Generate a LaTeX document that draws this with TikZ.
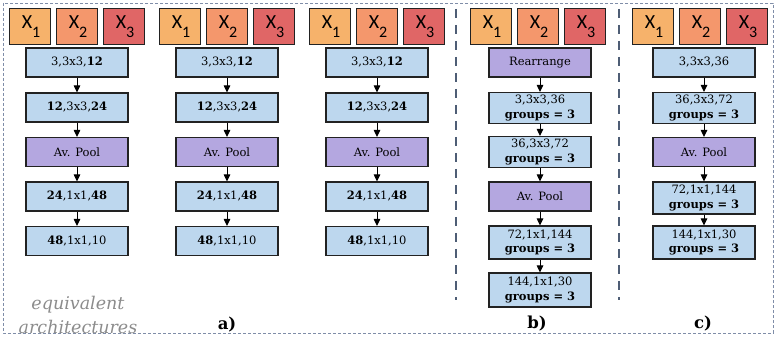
\documentclass[tikz,border=0pt]{standalone}
\usepackage{fontspec}
\setmainfont{DejaVu Serif}
\newfontfamily\xfont{Carlito}
\usetikzlibrary{arrows.meta}
\definecolor{cXa}{HTML}{F6B26B}
\definecolor{cXb}{HTML}{F4976C}
\definecolor{cXc}{HTML}{E06666}
\definecolor{cBlue}{HTML}{BDD7EE}
\definecolor{cPurple}{HTML}{B4A7E0}
\definecolor{cSep}{HTML}{4E5D75}
\definecolor{cBorder}{HTML}{7F8DA8}
\definecolor{cEdge}{HTML}{222222}
\newcommand{\xlab}[1]{\hspace*{2pt}X\raisebox{-0.45em}{\fontsize{16}{16}\selectfont #1}}
\begin{document}
\begin{tikzpicture}[x=1pt,y=-1pt,
  xbox/.style={draw=cEdge, line width=1pt, minimum width=41pt, minimum height=36pt, inner sep=0pt, font=\xfont\fontsize{20}{20}\selectfont},
  layer/.style={draw=cEdge, line width=1.1pt, fill=cBlue, minimum width=102pt, minimum height=29pt, inner sep=0pt, align=center, font=\fontsize{11.5}{13}\selectfont},
  pool/.style={layer, fill=cPurple},
  glayer/.style={layer, minimum height=31pt, font=\fontsize{11.5}{14.5}\selectfont},
  arr/.style={-{Triangle[length=7pt,width=6.5pt]}, line width=1pt, black},
  sepline/.style={cSep, line width=2.6pt, dash pattern=on 9pt off 7pt},
  border/.style={cBorder, line width=0.8pt, dash pattern=on 3pt off 2pt},
  lab/.style={font=\bfseries\fontsize{16.5}{16.5}\selectfont}]
\useasboundingbox (0,0) rectangle (776,347);
\draw[border] (3,3) rectangle (773,333);
% column group a
\foreach \i/\cx in {1/77,2/227,3/377}{
  \node[xbox, fill=cXa] (xa\i-1) at (\cx-47,27) {\xlab{1}};
  \node[xbox, fill=cXb] (xa\i-2) at (\cx,27) {\xlab{2}};
  \node[xbox, fill=cXc] (xa\i-3) at (\cx+47,27) {\xlab{3}};
  \node[layer] (a\i-1) at (\cx,62.5) {3,3x3,\textbf{12}};
  \node[layer] (a\i-2) at (\cx,107.5) {\textbf{12},3x3,\textbf{24}};
  \node[pool]  (a\i-3) at (\cx,152) {Av. Pool};
  \node[layer] (a\i-4) at (\cx,196.5) {\textbf{24},1x1,\textbf{48}};
  \node[layer] (a\i-5) at (\cx,241) {\textbf{48},1x1,10};
  \draw[arr] (a\i-1) -- (a\i-2);
  \draw[arr] (a\i-2) -- (a\i-3);
  \draw[arr] (a\i-3) -- (a\i-4);
  \draw[arr] (a\i-4) -- (a\i-5);
}
% column b
\node[xbox, fill=cXa] (xb-1) at (491,27) {\xlab{1}};
\node[xbox, fill=cXb] (xb-2) at (538,27) {\xlab{2}};
\node[xbox, fill=cXc] (xb-3) at (585,27) {\xlab{3}};
\node[pool] (b1) at (540,62.5) {Rearrange};
\node[glayer] (b2) at (540,108) {3,3x3,36\\\textbf{groups = 3}};
\node[glayer] (b3) at (540,152) {36,3x3,72\\\textbf{groups = 3}};
\node[pool] (b4) at (540,196.5) {Av. Pool};
\node[glayer, minimum height=33pt] (b5) at (540,242.5) {72,1x1,144\\\textbf{groups = 3}};
\node[glayer, minimum height=34pt] (b6) at (540,290) {144,1x1,30\\\textbf{groups = 3}};
\draw[arr] (b1) -- (b2);
\draw[arr] (b2) -- (b3);
\draw[arr] (b3) -- (b4);
\draw[arr] (b4) -- (b5);
\draw[arr] (b5) -- (b6);
% column c
\node[xbox, fill=cXa] (xc-1) at (653,27) {\xlab{1}};
\node[xbox, fill=cXb] (xc-2) at (700,27) {\xlab{2}};
\node[xbox, fill=cXc] (xc-3) at (747,27) {\xlab{3}};
\node[layer] (c1) at (704,62.5) {3,3x3,36};
\node[glayer] (c2) at (704,108) {36,3x3,72\\\textbf{groups = 3}};
\node[pool] (c3) at (704,152) {Av. Pool};
\node[glayer, minimum height=32pt] (c4) at (704,198) {72,1x1,144\\\textbf{groups = 3}};
\node[glayer, minimum height=33pt] (c5) at (704,242.5) {144,1x1,30\\\textbf{groups = 3}};
\draw[arr] (c1) -- (c2);
\draw[arr] (c2) -- (c3);
\draw[arr] (c3) -- (c4);
\draw[arr] (c4) -- (c5);
% separators
\draw[sepline] (456,9) -- (456,300);
\draw[sepline] (619,9) -- (619,300);
% labels
\node[font=\itshape\fontsize{17.5}{24}\selectfont, text=black!45, align=center] (eq) at (78,315) {equivalent\\architectures};
\node[lab] (la) at (227,325) {a)};
\node[lab] (lb) at (537,324) {b)};
\node[lab] (lc) at (703,324) {c)};
\end{tikzpicture}
\end{document}
